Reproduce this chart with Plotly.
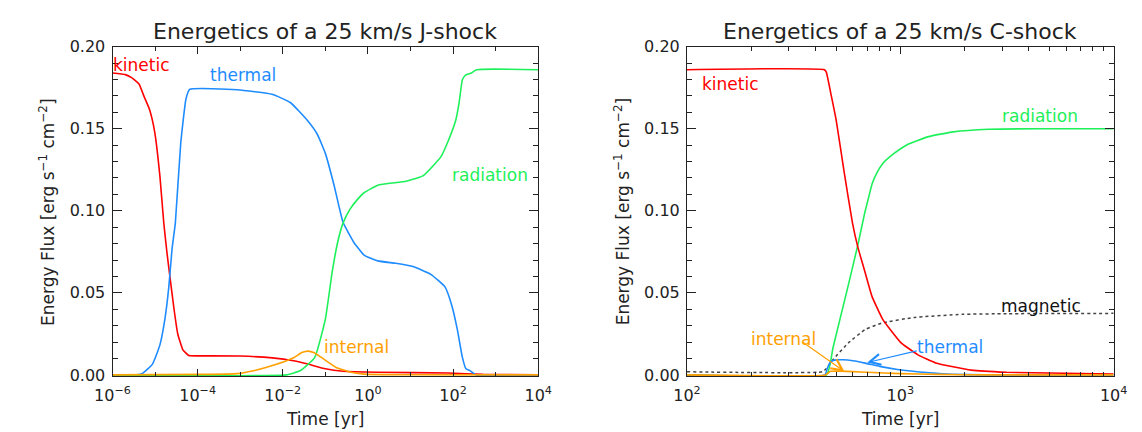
import plotly.graph_objects as go

# ---- J-shock (left panel): time [yr], energy flux [erg s^-1 cm^-2] ----
j_kin_t = [1.0e-6, 2.0e-6, 2.8e-6, 4.2e-6, 5.5e-6, 7.4e-6, 9.8e-6, 1.3e-5, 1.6e-5, 1.9e-5,
           2.3e-5, 2.8e-5, 3.4e-5, 4.5e-5, 6.2e-5, 1.0e-4, 1.0e-3, 5.7e-3, 1.8e-2, 3.9e-2,
           0.1, 0.26, 1.7, 78.0, 500.0, 1.0e4]
j_kin_v = [0.184, 0.183, 0.1812, 0.1773, 0.1697, 0.1617, 0.148, 0.121, 0.0927, 0.0746,
           0.0571, 0.0397, 0.0251, 0.0153, 0.0118, 0.0116, 0.0115, 0.0104, 0.0086, 0.0066,
           0.0037, 0.0022, 0.0016, 0.0012, 0.0003, 0.0]

j_th_t = [1.0e-6, 3.0e-6, 5.0e-6, 8.7e-6, 1.3e-5, 1.7e-5, 2.1e-5, 2.5e-5, 3.0e-5, 4.0e-5,
          5.3e-5, 6.5e-5, 8.5e-4, 5.6e-3, 1.5e-2, 3.8e-2, 0.065, 0.1, 0.16, 0.26,
          0.46, 0.81, 1.7, 4.5, 11.5, 30.0, 65.0, 94.0, 125.0, 166.0,
          200.0, 245.0, 345.0, 1.0e4]
j_th_v = [0.0, 0.0, 0.0008, 0.0066, 0.0183, 0.034, 0.0535, 0.0766, 0.093, 0.141,
          0.168, 0.174, 0.1738, 0.171, 0.166, 0.155, 0.1465, 0.135, 0.1156, 0.093,
          0.081, 0.073, 0.0695, 0.068, 0.066, 0.0613, 0.0535, 0.042, 0.028, 0.0105,
          0.0037, 0.0027, 0.0, 0.0]

j_rad_t = [1.0e-6, 1.2e-2, 2.6e-2, 5.6e-2, 0.1, 0.145, 0.195, 0.26, 0.38, 0.55,
           0.81, 1.7, 7.9, 20.0, 52.0, 78.0, 115.0, 138.0, 166.0, 200.0,
           270.0, 355.0, 1.0e4]
j_rad_v = [0.0, 0.0, 0.0027, 0.0105, 0.034, 0.063, 0.081, 0.0925, 0.101, 0.1065,
           0.111, 0.1156, 0.118, 0.1214, 0.133, 0.143, 0.155, 0.1656, 0.180, 0.1828,
           0.184, 0.186, 0.186]

j_int_t = [1.0e-6, 1.3e-4, 8.5e-4, 2.2e-3, 5.7e-3, 1.8e-2, 2.8e-2, 3.9e-2, 5.5e-2, 8.2e-2,
           0.175, 0.38, 0.81, 10.0, 1.0e4]
j_int_v = [0.0, 0.0003, 0.0008, 0.0027, 0.0057, 0.0105, 0.0136, 0.0145, 0.0135, 0.0105,
           0.0047, 0.0018, 0.0005, 0.0001, 0.0]

# ---- C-shock (right panel) ----
c_kin_t = [100.0, 441.0, 450.0, 475.0, 501.0, 545.0, 597.0, 632.0, 682.0, 736.0,
           826.0, 1000.0, 1211.0, 1466.0, 2148.0, 3150.0, 10000.0]
c_kin_v = [0.186, 0.186, 0.1845, 0.170, 0.155, 0.124, 0.0925, 0.078, 0.063, 0.048,
           0.034, 0.020, 0.0122, 0.0073, 0.0029, 0.0016, 0.0006]

c_rad_t = [100.0, 451.0, 484.0, 564.0, 632.0, 682.0, 710.0, 738.0, 780.0, 826.0,
           925.0, 1077.0, 1355.0, 1770.0, 2594.0, 4600.0, 10000.0]
c_rad_v = [0.0, 0.0, 0.0167, 0.052, 0.079, 0.099, 0.108, 0.1165, 0.1235, 0.1287,
           0.1345, 0.1403, 0.1452, 0.1481, 0.1497, 0.150, 0.150]

c_mag_t = [100.0, 431.0, 449.0, 482.0, 574.0, 684.0, 815.0, 1156.0, 1950.0, 3150.0, 10000.0]
c_mag_v = [0.0019, 0.0019, 0.0037, 0.0091, 0.0198, 0.0276, 0.0315, 0.035, 0.0369, 0.0373, 0.0375]

c_th_t = [100.0, 443.0, 455.0, 470.0, 490.0, 540.0, 600.0, 684.0, 800.0, 970.0,
          1377.0, 1760.0, 2500.0, 10000.0]
c_th_v = [0.0, 0.0, 0.004, 0.0078, 0.009, 0.0092, 0.0086, 0.0072, 0.0052, 0.0033,
          0.0013, 0.0004, 0.0, 0.0]

c_int_t = [100.0, 446.0, 470.0, 520.0, 600.0, 700.0, 1000.0, 1500.0, 2500.0, 10000.0]
c_int_v = [0.0, 0.0, 0.0022, 0.0023, 0.002, 0.0016, 0.0008, 0.0003, 0.0, 0.0]

# axis ticks
y_ticks = [0.0, 0.05, 0.10, 0.15, 0.20]
j_xticks = [1e-6, 1e-4, 1e-2, 1e0, 1e2, 1e4]
j_xtext = ["10<sup>\u22126</sup>", "10<sup>\u22124</sup>", "10<sup>\u22122</sup>",
           "10<sup>0</sup>", "10<sup>2</sup>", "10<sup>4</sup>"]
j_xminor = [1e-5, 1e-3, 1e-1, 1e1, 1e3]
c_xticks = [1e2, 1e3, 1e4]
c_xtext = ["10<sup>2</sup>", "10<sup>3</sup>", "10<sup>4</sup>"]
c_xminor = [m * d for d in (100, 1000) for m in range(2, 10)]

RED = "#ff0000"
BLUE = "#1e8cff"
GREEN = "#1ef05a"
ORANGE = "#ffa000"
AXC = "#222222"
FONT = "DejaVu Sans"
W, H = 1142, 432


def px(x):
    return x / W


def py(y):
    return 1 - y / H


fig = go.Figure()


def add_line(t, v, color, xa, ya, dash="solid", width=1.6):
    fig.add_trace(go.Scatter(
        x=t, y=v, mode="lines", xaxis=xa, yaxis=ya, showlegend=False, hoverinfo="skip",
        line=dict(color=color, width=width, dash=dash, shape="spline", smoothing=0.4)))


add_line(j_kin_t, j_kin_v, RED, "x", "y")
add_line(j_th_t, j_th_v, BLUE, "x", "y")
add_line(j_rad_t, j_rad_v, GREEN, "x", "y")
add_line(j_int_t, j_int_v, ORANGE, "x", "y")

add_line(c_mag_t, c_mag_v, "#444444", "x2", "y2", dash="dot", width=1.5)
add_line(c_rad_t, c_rad_v, GREEN, "x2", "y2")
add_line(c_kin_t, c_kin_v, RED, "x2", "y2")
add_line(c_th_t, c_th_v, BLUE, "x2", "y2")
add_line(c_int_t, c_int_v, ORANGE, "x2", "y2")

tickfont = dict(family=FONT, size=16, color=AXC)


def yaxis(anchor):
    return dict(
        anchor=anchor, domain=[py(374.5), py(31)], range=[-0.0006, 0.2],
        tickvals=y_ticks, tickformat=".2f", ticks="inside", ticklen=9, tickcolor=AXC,
        showline=True, linecolor=AXC, linewidth=1, mirror="ticks",
        showgrid=False, zeroline=False, tickfont=tickfont, ticklabelstandoff=3,
        minor=dict(tickmode="linear", tick0=0, dtick=0.01, ticks="inside",
                   ticklen=5, tickcolor=AXC, showgrid=False))


def xaxis(anchor, dom, rng, vals, text, minor_vals):
    return dict(
        anchor=anchor, domain=dom, type="log", range=rng,
        tickmode="array", tickvals=vals, ticktext=text, ticks="inside", ticklen=7,
        tickcolor=AXC, showline=True, linecolor=AXC, linewidth=1, mirror="ticks",
        showgrid=False, zeroline=False, tickfont=tickfont, ticklabelstandoff=5,
        minor=dict(tickmode="array", tickvals=minor_vals, ticks="inside",
                   ticklen=4, tickcolor=AXC, showgrid=False))


fig.update_layout(
    width=W, height=H, margin=dict(l=0, r=0, t=0, b=0),
    paper_bgcolor="white", plot_bgcolor="white",
    font=dict(family=FONT, color=AXC),
    xaxis=xaxis("y", [px(89), px(527)], [-6, 4], j_xticks, j_xtext, j_xminor),
    yaxis=yaxis("x"),
    xaxis2=xaxis("y2", [px(680), px(1119)], [2, 4], c_xticks, c_xtext, c_xminor),
    yaxis2=yaxis("x2"),
)

ann = []


def label(text, x, y, color=AXC, size=17, angle=0):
    ann.append(dict(text=text, x=px(x), y=py(y), xref="paper", yref="paper",
                    xanchor="center", yanchor="middle", showarrow=False, textangle=angle,
                    font=dict(family=FONT, size=size, color=color)))


def arrow(x, y, ax, ay, color):
    ann.append(dict(text="", x=px(x), y=py(y), xref="paper", yref="paper",
                    ax=ax, ay=ay, showarrow=True, arrowhead=5, arrowsize=1.8,
                    arrowwidth=1.2, arrowcolor=color))


label("Energetics of a 25 km/s J-shock", 308, 15, size=22)
label("Energetics of a 25 km/s C-shock", 899.5, 15, size=22)
label("Time [yr]", 308, 419)
label("Time [yr]", 899.5, 419)
ytitle = "Energy Flux [erg s<sup>\u22121</sup> cm<sup>\u22122</sup>]"
label(ytitle, 21, 203, angle=-90)
label(ytitle, 613, 203, angle=-90)

label("kinetic", 118.5, 50, RED)
label("thermal", 223, 61, BLUE)
label("radiation", 477, 164.5, GREEN)
label("internal", 340, 344, ORANGE)

label("kinetic", 725, 69.5, RED)
label("radiation", 1043, 103.5, GREEN)
label("magnetic", 1044.5, 302, "#111111")
label("internal", 779, 335.5, ORANGE)
label("thermal", 951, 344.5, BLUE)
arrow(842, 370, -43, -30.5, ORANGE)
arrow(865.5, 360.5, 51, -12, BLUE)

fig.update_layout(annotations=ann)

fig.write_html("out.html")
